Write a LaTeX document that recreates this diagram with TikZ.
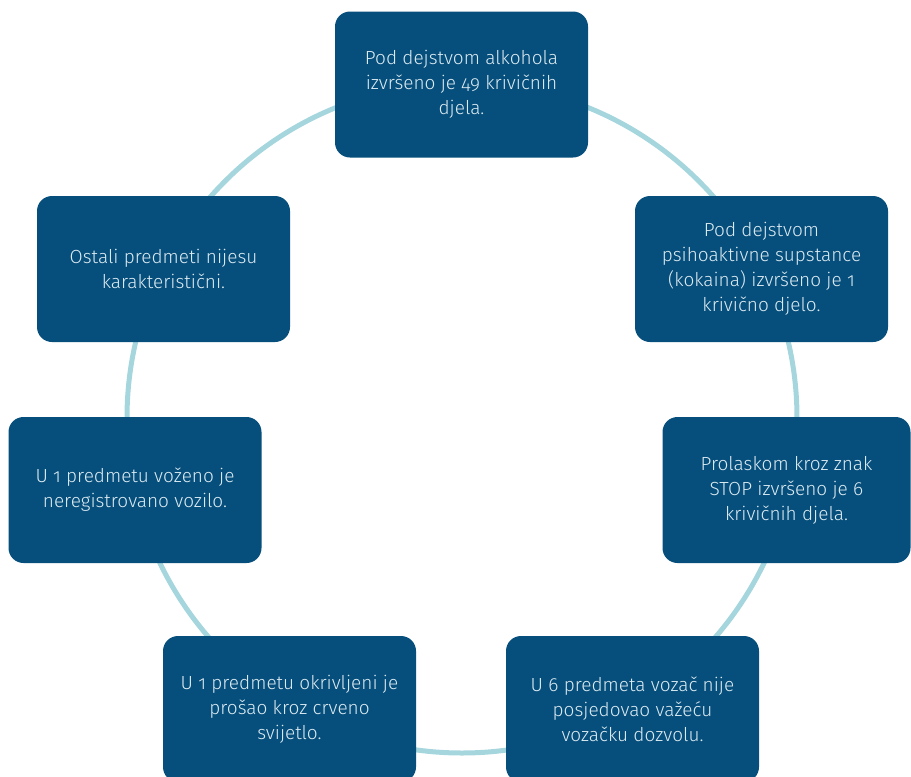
\documentclass[tikz,border=0pt]{standalone}
\usepackage{fontspec}
\setmainfont{Fira Sans}[UprightFont={* Light}, Numbers=OldStyle]
\usetikzlibrary{positioning}
\definecolor{boxBlue}{HTML}{064E7B}
\definecolor{ringBlue}{HTML}{A5D6DD}
\definecolor{boxText}{HTML}{DCEBF2}
\tikzstyle{factBox}=[rectangle, rounded corners=15pt, fill=boxBlue, text=boxText, minimum width=253pt, minimum height=146pt, align=center, font=\fontsize{19}{25}\selectfont]
\tikzstyle{ringLine}=[line width=5pt, color=ringBlue]

\begin{document}
\begin{tikzpicture}[x=1pt, y=-1pt]
    \useasboundingbox (0, 0) rectangle (911, 777);

    % Ring
    \coordinate (ringCenter) at (462, 418);
    \draw[ringLine] (ringCenter) circle (335pt);

    % Fact boxes
    \node[factBox] (alcohol) at (461.5, 84.5) {Pod dejstvom alkohola\\izvršeno je 49 krivičnih\\djela.};
    \node[factBox] (cocaine) at (761.5, 269) {Pod dejstvom\\psihoaktivne supstance\\(kokaina) izvršeno je 1\\krivično djelo.};
    \node[factBox, minimum width=248pt] (stopSign) at (786.5, 490) {Prolaskom kroz znak\\STOP izvršeno je 6\\krivičnih djela.};
    \node[factBox] (licence) at (632.5, 709) {U 6 predmeta vozač nije\\posjedovao važeću\\vozačku dozvolu.};
    \node[factBox] (redLight) at (289.5, 709) {U 1 predmetu okrivljeni je\\prošao kroz crveno\\svijetlo.};
    \node[factBox] (unregistered) at (135, 490) {U 1 predmetu voženo je\\neregistrovano vozilo.};
    \node[factBox] (others) at (163.5, 269) {Ostali predmeti nijesu\\karakteristični.};

\end{tikzpicture}
\end{document}
